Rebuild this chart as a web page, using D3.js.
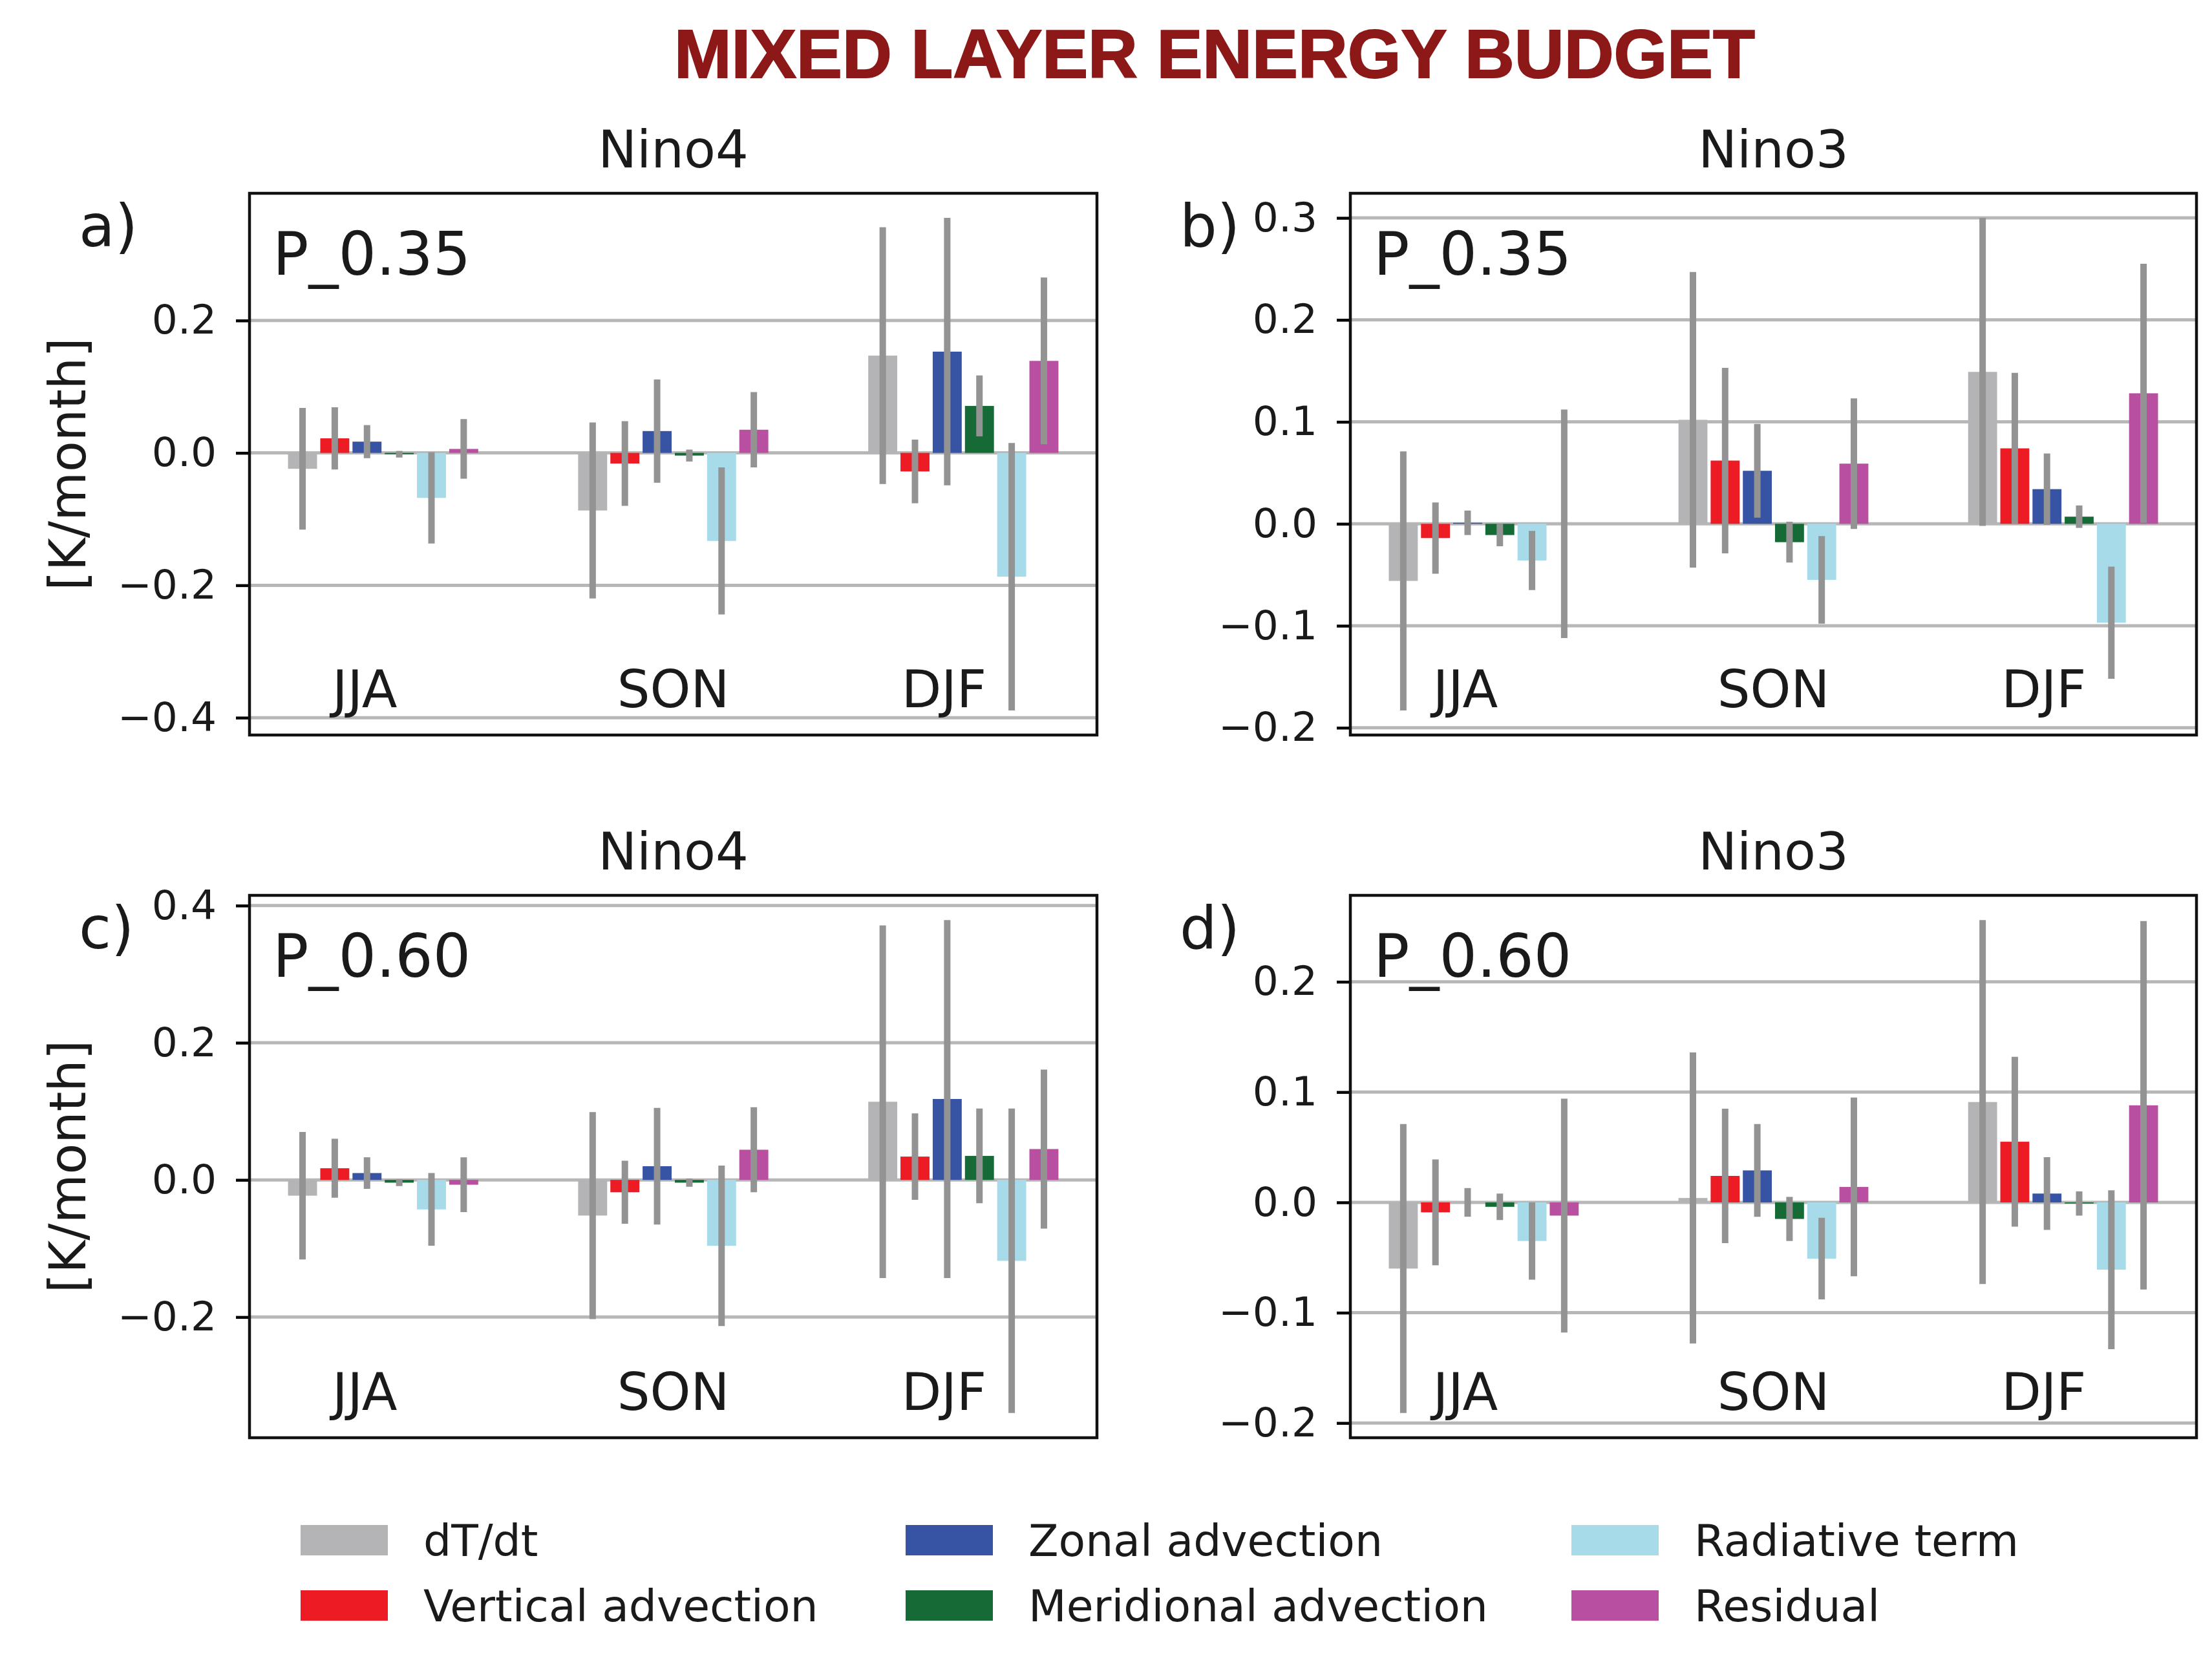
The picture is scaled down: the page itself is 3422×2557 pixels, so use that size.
<!DOCTYPE html>
<html>
<head>
<meta charset="utf-8">
<script src="https://cdn.jsdelivr.net/npm/d3@7"></script>
<style>
  html, body { margin: 0; padding: 0; background: #ffffff; }
  svg { display: block; }
</style>
</head>
<body>
<script>
// ---------------- DATA ----------------
const seasons = ["JJA", "SON", "DJF"];
const seriesNames = ["dT/dt", "Vertical advection", "Zonal advection", "Meridional advection", "Radiative term", "Residual"];
const seriesColors = ["#b4b4b6", "#ed1c24", "#3753a4", "#156a36", "#a8dbea", "#b94fa0"];

// values[season][series]  (K/month)
const valuesNino4P035 = [
  [-0.024, 0.022, 0.017, -0.002, -0.068, 0.006],
  [-0.087, -0.016, 0.033, -0.004, -0.133, 0.035],
  [0.147, -0.028, 0.153, 0.071, -0.187, 0.139]
];
const errorsNino4P035 = [
  [0.092, 0.047, 0.025, 0.005, 0.069, 0.045],
  [0.133, 0.064, 0.078, 0.009, 0.111, 0.057],
  [0.194, 0.048, 0.202, 0.046, 0.202, 0.126]
];
const valuesNino3P035 = [
  [-0.056, -0.014, 0.001, -0.011, -0.036, 0.000],
  [0.102, 0.062, 0.052, -0.018, -0.055, 0.059],
  [0.149, 0.074, 0.034, 0.007, -0.097, 0.128]
];
const errorsNino3P035 = [
  [0.127, 0.035, 0.012, 0.011, 0.029, 0.112],
  [0.145, 0.091, 0.046, 0.020, 0.043, 0.064],
  [0.151, 0.074, 0.035, 0.011, 0.055, 0.127]
];
const valuesNino4P060 = [
  [-0.023, 0.017, 0.010, -0.004, -0.043, -0.007],
  [-0.052, -0.018, 0.020, -0.004, -0.096, 0.044],
  [0.114, 0.034, 0.118, 0.035, -0.118, 0.045]
];
const errorsNino4P060 = [
  [0.093, 0.043, 0.023, 0.005, 0.053, 0.040],
  [0.151, 0.046, 0.085, 0.006, 0.117, 0.062],
  [0.257, 0.063, 0.261, 0.069, 0.222, 0.116]
];
const valuesNino3P060 = [
  [-0.060, -0.009, 0.000, -0.004, -0.035, -0.012],
  [0.004, 0.024, 0.029, -0.015, -0.051, 0.014],
  [0.091, 0.055, 0.008, -0.001, -0.061, 0.088]
];
const errorsNino3P060 = [
  [0.131, 0.048, 0.013, 0.012, 0.035, 0.106],
  [0.132, 0.061, 0.042, 0.020, 0.037, 0.081],
  [0.165, 0.077, 0.033, 0.011, 0.072, 0.167]
];
const ticksA = [-0.4, -0.2, 0.0, 0.2];
const ticksB = [-0.2, -0.1, 0.0, 0.1, 0.2, 0.3];
const ticksC = [-0.2, 0.0, 0.2, 0.4];
const ticksD = [-0.2, -0.1, 0.0, 0.1, 0.2];

const figTitle = "MIXED LAYER ENERGY BUDGET";
const yLabel = "[K/month]";

// ---------------- LAYOUT ----------------
const W = 3422, H = 2557;
const panels = [
  { letter: "a)", title: "Nino4", tag: "P_0.35", values: valuesNino4P035, errors: errorsNino4P035, ticks: ticksA, x0: 386, x1: 1697, y0: 299, y1: 1137, ylab: true },
  { letter: "b)", title: "Nino3", tag: "P_0.35", values: valuesNino3P035, errors: errorsNino3P035, ticks: ticksB, x0: 2089, x1: 3398, y0: 299, y1: 1137, ylab: false },
  { letter: "c)", title: "Nino4", tag: "P_0.60", values: valuesNino4P060, errors: errorsNino4P060, ticks: ticksC, x0: 386, x1: 1697, y0: 1385, y1: 2224, ylab: true },
  { letter: "d)", title: "Nino3", tag: "P_0.60", values: valuesNino3P060, errors: errorsNino3P060, ticks: ticksD, x0: 2089, x1: 3398, y0: 1385, y1: 2224, ylab: false }
];

const FONT = "'DejaVu Sans', 'Liberation Sans', sans-serif";
const groupStride = 9;           // bar slots between group starts
const barWidth = 0.9;
const seasonLabelOffset = [2.43, 3.0, 2.4];

const svg = d3.select("body").append("svg")
  .attr("width", W).attr("height", H)
  .attr("xmlns", "http://www.w3.org/2000/svg");
svg.append("rect").attr("width", W).attr("height", H).attr("fill", "#ffffff");

// Figure title
svg.append("text")
  .attr("x", 1879).attr("y", 120)
  .attr("text-anchor", "middle")
  .attr("font-family", "'Liberation Sans', Arial, sans-serif")
  .attr("font-weight", "bold")
  .attr("font-size", 106)
  .attr("fill", "#8c1818")
  .attr("stroke", "#8c1818").attr("stroke-width", 2)
  .attr("textLength", 1672)
  .attr("lengthAdjust", "spacingAndGlyphs")
  .text(figTitle);

panels.forEach(p => {
  const lo = [], hi = [];
  p.values.forEach((row, s) => row.forEach((v, k) => {
    const e = p.errors[s][k];
    lo.push(Math.min(0, v - e)); hi.push(Math.max(0, v + e));
  }));
  const dmin = d3.min(lo), dmax = d3.max(hi);
  const pad = (dmax - dmin) * 0.05;

  const nSeries = seriesNames.length;
  const xFirst = (1 - barWidth) / 2;
  const xLast = (seasons.length - 1) * groupStride + nSeries - (1 - barWidth) / 2;
  const xPad = (xLast - xFirst) * 0.05;

  const x = d3.scaleLinear().domain([xFirst - xPad, xLast + xPad]).range([p.x0, p.x1]);
  const y = d3.scaleLinear().domain([dmin - pad, dmax + pad]).range([p.y1, p.y0]);

  const g = svg.append("g");

  // grid
  g.append("g").selectAll("line").data(p.ticks).join("line")
    .attr("x1", p.x0).attr("x2", p.x1)
    .attr("y1", d => y(d)).attr("y2", d => y(d))
    .attr("stroke", "#b7b7b7").attr("stroke-width", 5);

  // bars
  const bars = [];
  p.values.forEach((row, s) => row.forEach((v, k) => {
    bars.push({ s, k, v, e: p.errors[s][k], xc: s * groupStride + k + 0.5 });
  }));
  g.append("g").selectAll("rect").data(bars).join("rect")
    .attr("x", d => x(d.xc - barWidth / 2))
    .attr("width", d => x(d.xc + barWidth / 2) - x(d.xc - barWidth / 2))
    .attr("y", d => y(Math.max(0, d.v)))
    .attr("height", d => Math.abs(y(d.v) - y(0)))
    .attr("fill", d => seriesColors[d.k]);

  // error bars
  g.append("g").selectAll("line").data(bars).join("line")
    .attr("x1", d => x(d.xc)).attr("x2", d => x(d.xc))
    .attr("y1", d => y(d.v - d.e)).attr("y2", d => y(d.v + d.e))
    .attr("stroke", "#939393").attr("stroke-width", 10);

  // y axis
  const ax = g.append("g")
    .attr("transform", `translate(${p.x0},0)`)
    .call(d3.axisLeft(y).tickValues(p.ticks).tickFormat(d3.format(".1f")).tickSize(21).tickPadding(30));
  ax.select(".domain").remove();
  ax.selectAll(".tick line").attr("stroke", "#000").attr("stroke-width", 4.5);
  ax.selectAll(".tick text")
    .attr("font-family", FONT).attr("font-size", 63).attr("fill", "#1a1a1a");

  // spines
  g.append("rect")
    .attr("x", p.x0).attr("y", p.y0)
    .attr("width", p.x1 - p.x0).attr("height", p.y1 - p.y0)
    .attr("fill", "none").attr("stroke", "#111").attr("stroke-width", 4.5);

  // season labels
  g.append("g").selectAll("text").data(seasons).join("text")
    .attr("x", (d, i) => x(i * groupStride + seasonLabelOffset[i]))
    .attr("y", p.y1 - 43)
    .attr("text-anchor", "middle")
    .attr("font-family", FONT).attr("font-size", 80).attr("fill", "#1a1a1a")
    .text(d => d);

  // panel title
  g.append("text")
    .attr("x", (p.x0 + p.x1) / 2).attr("y", p.y0 - 40)
    .attr("text-anchor", "middle")
    .attr("font-family", FONT).attr("font-size", 80).attr("fill", "#1a1a1a")
    .text(p.title);

  // tag
  g.append("text")
    .attr("x", p.x0 + 36).attr("y", p.y0 + 126)
    .attr("font-family", FONT).attr("font-size", 92).attr("fill", "#1a1a1a")
    .text(p.tag);

  // panel letter
  g.append("text")
    .attr("x", p.x0 - 264).attr("y", p.y0 + 82)
    .attr("font-family", FONT).attr("font-size", 91).attr("fill", "#1a1a1a")
    .text(p.letter);

  // y label
  if (p.ylab) {
    const cy = (p.y0 + p.y1) / 2;
    g.append("text")
      .attr("transform", `translate(132,${cy}) rotate(-90)`)
      .attr("text-anchor", "middle")
      .attr("font-family", FONT).attr("font-size", 78).attr("fill", "#1a1a1a")
      .text(yLabel);
  }
});

// Legend
const legX = [465, 1401, 2431];
const legY = [2359, 2460];
const leg = svg.append("g");
const legItems = seriesNames.map((name, i) => ({ name, color: seriesColors[i], col: Math.floor(i / 2), row: i % 2 }));
leg.selectAll("rect").data(legItems).join("rect")
  .attr("x", d => legX[d.col]).attr("y", d => legY[d.row])
  .attr("width", 135).attr("height", 47)
  .attr("fill", d => d.color);
leg.selectAll("text").data(legItems).join("text")
  .attr("x", d => legX[d.col] + 190).attr("y", d => legY[d.row] + 48)
  .attr("font-family", FONT).attr("font-size", 68).attr("fill", "#1a1a1a")
  .text(d => d.name);
</script>
</body>
</html>
